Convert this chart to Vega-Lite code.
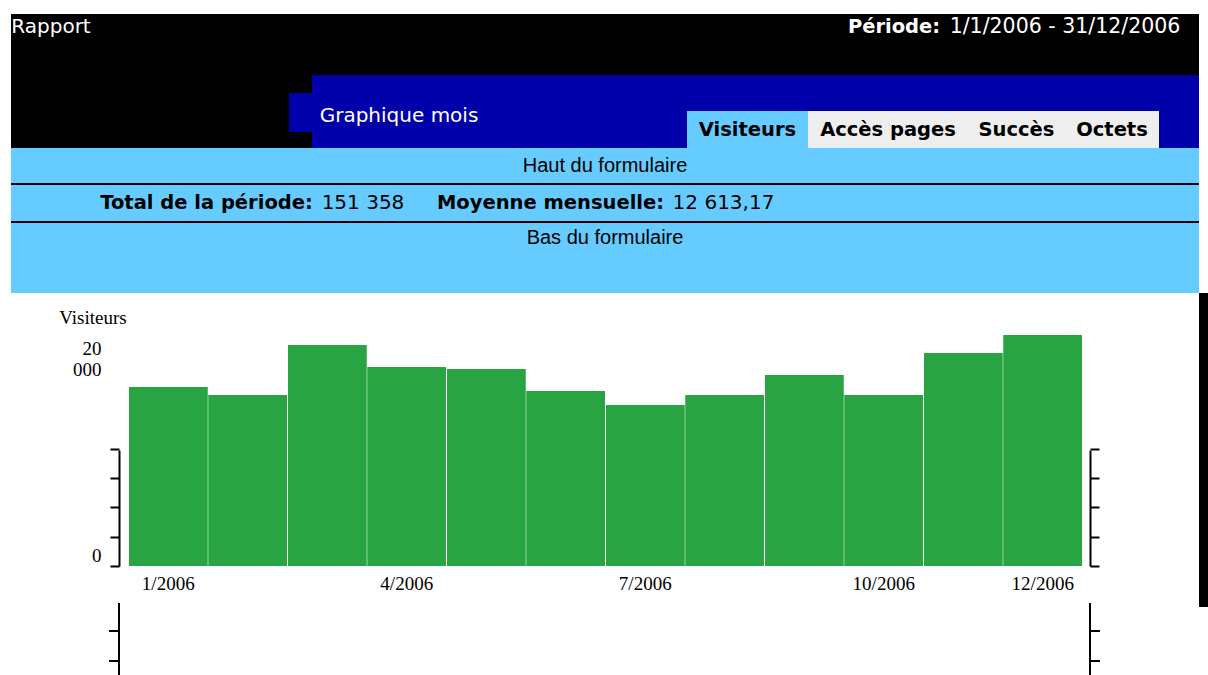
{
  "$schema": "https://vega.github.io/schema/vega-lite/v6.json",
  "background": "white",
  "padding": {"left": 11, "top": 14, "right": 0, "bottom": 0},
  "config": {"view": {"stroke": null}, "concat": {"spacing": 0}},
  "spacing": 0,
  "bounds": "full",
  "vconcat": [
    {
      "spacing": 0, "bounds": "full",
      "vconcat": [
        {
          "spacing": 0, "bounds": "full",
          "hconcat": [
            {"width": 80, "height": 26, "view": {"fill": "#000000", "stroke": null}, "data": {"values": [{"t": "Rapport"}]}, "mark": {"type": "text", "font": "DejaVu Sans", "fontSize": 20, "color": "white"}, "encoding": {"text": {"field": "t", "type": "nominal"}}},
            {"width": 753, "height": 26, "view": {"fill": "#000000", "stroke": null}, "data": {"values": [{}]}, "mark": {"type": "text", "fontSize": 1}, "encoding": {"text": {"value": ""}}},
            {"width": 100, "height": 26, "view": {"fill": "#000000", "stroke": null}, "data": {"values": [{"t": "Période:"}]}, "mark": {"type": "text", "font": "DejaVu Sans", "fontSize": 19.5, "fontWeight": "bold", "color": "white"}, "encoding": {"text": {"field": "t", "type": "nominal"}}},
            {"width": 242, "height": 26, "view": {"fill": "#000000", "stroke": null}, "data": {"values": [{"t": "1/1/2006 - 31/12/2006"}]}, "mark": {"type": "text", "font": "DejaVu Sans", "fontSize": 20.5, "color": "white"}, "encoding": {"text": {"field": "t", "type": "nominal"}}},
            {"width": 13, "height": 26, "view": {"fill": "#000000", "stroke": null}, "data": {"values": [{}]}, "mark": {"type": "text", "fontSize": 1}, "encoding": {"text": {"value": ""}}}
          ]
        },
        {"width": 1188, "height": 35, "view": {"fill": "#000000", "stroke": null}, "data": {"values": [{}]}, "mark": {"type": "text", "fontSize": 1}, "encoding": {"text": {"value": ""}}}
      ]
    },
    {
      "spacing": 0, "bounds": "full",
      "hconcat": [
        {"width": 278, "height": 73, "view": {"fill": "#000000", "stroke": null}, "data": {"values": [{}]}, "mark": {"type": "text", "fontSize": 1}, "encoding": {"text": {"value": ""}}},
        {
          "spacing": 0, "bounds": "full",
          "vconcat": [
            {"width": 23, "height": 18, "view": {"fill": "#000000", "stroke": null}, "data": {"values": [{}]}, "mark": {"type": "text", "fontSize": 1}, "encoding": {"text": {"value": ""}}},
            {"width": 23, "height": 39, "view": {"fill": "#0000AA", "stroke": null}, "data": {"values": [{}]}, "mark": {"type": "text", "fontSize": 1}, "encoding": {"text": {"value": ""}}},
            {"width": 23, "height": 16, "view": {"fill": "#000000", "stroke": null}, "data": {"values": [{}]}, "mark": {"type": "text", "fontSize": 1}, "encoding": {"text": {"value": ""}}}
          ]
        },
        {
          "spacing": 0, "bounds": "full",
          "vconcat": [
            {"width": 375, "height": 20, "view": {"fill": "#0000AA", "stroke": null}, "data": {"values": [{}]}, "mark": {"type": "text", "fontSize": 1}, "encoding": {"text": {"value": ""}}},
            {
              "spacing": 0, "bounds": "full",
              "hconcat": [
                {"width": 174, "height": 42, "view": {"fill": "#0000AA", "stroke": null}, "data": {"values": [{"t": "Graphique mois"}]}, "mark": {"type": "text", "font": "DejaVu Sans", "fontSize": 20, "color": "white"}, "encoding": {"text": {"field": "t", "type": "nominal"}}},
                {"width": 201, "height": 42, "view": {"fill": "#0000AA", "stroke": null}, "data": {"values": [{}]}, "mark": {"type": "text", "fontSize": 1}, "encoding": {"text": {"value": ""}}}
              ]
            },
            {"width": 375, "height": 11, "view": {"fill": "#0000AA", "stroke": null}, "data": {"values": [{}]}, "mark": {"type": "text", "fontSize": 1}, "encoding": {"text": {"value": ""}}}
          ]
        },
        {
          "spacing": 0, "bounds": "full",
          "vconcat": [
            {"width": 472, "height": 36, "view": {"fill": "#0000AA", "stroke": null}, "data": {"values": [{}]}, "mark": {"type": "text", "fontSize": 1}, "encoding": {"text": {"value": ""}}},
            {
              "spacing": 0, "bounds": "full",
              "hconcat": [
                {"width": 121, "height": 37, "view": {"fill": "#66CCFF", "stroke": null}, "data": {"values": [{"t": "Visiteurs"}]}, "mark": {"type": "text", "font": "DejaVu Sans", "fontSize": 19.5, "fontWeight": "bold", "color": "black"}, "encoding": {"text": {"field": "t", "type": "nominal"}}},
                {"width": 160, "height": 37, "view": {"fill": "#EEEEEE", "stroke": null}, "data": {"values": [{"t": "Accès pages"}]}, "mark": {"type": "text", "font": "DejaVu Sans", "fontSize": 19.5, "fontWeight": "bold", "color": "black"}, "encoding": {"text": {"field": "t", "type": "nominal"}}},
                {"width": 97, "height": 37, "view": {"fill": "#EEEEEE", "stroke": null}, "data": {"values": [{"t": "Succès"}]}, "mark": {"type": "text", "font": "DejaVu Sans", "fontSize": 19.5, "fontWeight": "bold", "color": "black"}, "encoding": {"text": {"field": "t", "type": "nominal"}}},
                {"width": 94, "height": 37, "view": {"fill": "#EEEEEE", "stroke": null}, "data": {"values": [{"t": "Octets"}]}, "mark": {"type": "text", "font": "DejaVu Sans", "fontSize": 19.5, "fontWeight": "bold", "color": "black"}, "encoding": {"text": {"field": "t", "type": "nominal"}}}
              ]
            }
          ]
        },
        {"width": 40, "height": 73, "view": {"fill": "#0000AA", "stroke": null}, "data": {"values": [{}]}, "mark": {"type": "text", "fontSize": 1}, "encoding": {"text": {"value": ""}}}
      ]
    },
    {
      "spacing": 0, "bounds": "full",
      "vconcat": [
        {"width": 1188, "height": 35, "view": {"fill": "#66CCFF", "stroke": null}, "data": {"values": [{"t": "Haut du formulaire"}]}, "mark": {"type": "text", "font": "Liberation Sans", "fontSize": 20, "color": "black"}, "encoding": {"text": {"field": "t", "type": "nominal"}}},
        {"width": 1188, "height": 2, "view": {"fill": "#000000", "stroke": null}, "data": {"values": [{}]}, "mark": {"type": "text", "fontSize": 1}, "encoding": {"text": {"value": ""}}},
        {
          "spacing": 0, "bounds": "full",
          "hconcat": [
            {"width": 86, "height": 36, "view": {"fill": "#66CCFF", "stroke": null}, "data": {"values": [{}]}, "mark": {"type": "text", "fontSize": 1}, "encoding": {"text": {"value": ""}}},
            {"width": 219, "height": 36, "view": {"fill": "#66CCFF", "stroke": null}, "data": {"values": [{"t": "Total de la période:"}]}, "mark": {"type": "text", "font": "DejaVu Sans", "fontSize": 19.5, "fontWeight": "bold", "color": "black"}, "encoding": {"text": {"field": "t", "type": "nominal"}}},
            {"width": 94, "height": 36, "view": {"fill": "#66CCFF", "stroke": null}, "data": {"values": [{"t": "151 358"}]}, "mark": {"type": "text", "font": "DejaVu Sans", "fontSize": 20, "color": "black"}, "encoding": {"text": {"field": "t", "type": "nominal"}}},
            {"width": 22, "height": 36, "view": {"fill": "#66CCFF", "stroke": null}, "data": {"values": [{}]}, "mark": {"type": "text", "fontSize": 1}, "encoding": {"text": {"value": ""}}},
            {"width": 237, "height": 36, "view": {"fill": "#66CCFF", "stroke": null}, "data": {"values": [{"t": "Moyenne mensuelle:"}]}, "mark": {"type": "text", "font": "DejaVu Sans", "fontSize": 19.5, "fontWeight": "bold", "color": "black"}, "encoding": {"text": {"field": "t", "type": "nominal"}}},
            {"width": 109, "height": 36, "view": {"fill": "#66CCFF", "stroke": null}, "data": {"values": [{"t": "12 613,17"}]}, "mark": {"type": "text", "font": "DejaVu Sans", "fontSize": 20, "color": "black"}, "encoding": {"text": {"field": "t", "type": "nominal"}}},
            {"width": 421, "height": 36, "view": {"fill": "#66CCFF", "stroke": null}, "data": {"values": [{}]}, "mark": {"type": "text", "fontSize": 1}, "encoding": {"text": {"value": ""}}}
          ]
        },
        {"width": 1188, "height": 2, "view": {"fill": "#000000", "stroke": null}, "data": {"values": [{}]}, "mark": {"type": "text", "fontSize": 1}, "encoding": {"text": {"value": ""}}},
        {"width": 1188, "height": 30, "view": {"fill": "#66CCFF", "stroke": null}, "data": {"values": [{"t": "Bas du formulaire"}]}, "mark": {"type": "text", "font": "Liberation Sans", "fontSize": 20, "color": "black"}, "encoding": {"text": {"field": "t", "type": "nominal"}}},
        {"width": 1188, "height": 40, "view": {"fill": "#66CCFF", "stroke": null}, "data": {"values": [{}]}, "mark": {"type": "text", "fontSize": 1}, "encoding": {"text": {"value": ""}}}
      ]
    },
    {
      "spacing": 0, "bounds": "full",
      "hconcat": [
        {"width": 47, "height": 38, "view": {"stroke": null}, "data": {"values": [{}]}, "mark": {"type": "text", "fontSize": 1}, "encoding": {"text": {"value": ""}}},
        {
          "spacing": 0, "bounds": "full",
          "vconcat": [
            {"width": 70, "height": 12, "view": {"stroke": null}, "data": {"values": [{}]}, "mark": {"type": "text", "fontSize": 1}, "encoding": {"text": {"value": ""}}},
            {"width": 70, "height": 26, "view": {"stroke": null}, "data": {"values": [{"t": "Visiteurs"}]}, "mark": {"type": "text", "font": "Liberation Serif", "fontSize": 19, "color": "black"}, "encoding": {"text": {"field": "t", "type": "nominal"}}}
          ]
        },
        {"width": 1071, "height": 38, "view": {"stroke": null}, "data": {"values": [{}]}, "mark": {"type": "text", "fontSize": 1}, "encoding": {"text": {"value": ""}}},
        {"width": 9, "height": 38, "view": {"fill": "#000000", "stroke": null}, "data": {"values": [{}]}, "mark": {"type": "text", "fontSize": 1}, "encoding": {"text": {"value": ""}}}
      ]
    },
    {
      "spacing": 0, "bounds": "flush",
      "hconcat": [
        {"width": 118, "height": 235, "view": {"stroke": null}, "data": {"values": [{}]}, "mark": {"type": "text", "fontSize": 1}, "encoding": {"text": {"value": ""}}},
        {
          "width": 953, "height": 235,
          "data": {"values": [
            {"mois": "1/2006", "visiteurs": 18280},
            {"mois": "2/2006", "visiteurs": 17460},
            {"mois": "3/2006", "visiteurs": 22570},
            {"mois": "4/2006", "visiteurs": 20320},
            {"mois": "5/2006", "visiteurs": 20120},
            {"mois": "6/2006", "visiteurs": 17870},
            {"mois": "7/2006", "visiteurs": 16440},
            {"mois": "8/2006", "visiteurs": 17460},
            {"mois": "9/2006", "visiteurs": 19510},
            {"mois": "10/2006", "visiteurs": 17460},
            {"mois": "11/2006", "visiteurs": 21750},
            {"mois": "12/2006", "visiteurs": 23590}
          ]},
          "encoding": {
            "x": {"field": "mois", "type": "ordinal", "sort": null, "scale": {"paddingInner": 0.0125, "paddingOuter": 0},
              "axis": {"values": ["1/2006", "4/2006", "7/2006", "10/2006", "12/2006"], "title": null, "labelAngle": 0, "ticks": false, "domain": false, "labelFont": "Liberation Serif", "labelFontSize": 19, "labelColor": "black", "labelPadding": 8, "labelOverlap": false}}
          },
          "layer": [
            {
              "mark": {"type": "bar", "color": "#28a443"},
              "encoding": {
                "y": {"field": "visiteurs", "type": "quantitative", "scale": {"domain": [0, 24000], "nice": false},
                  "axis": {"orient": "left", "values": [0, 3000, 6000, 9000, 12000, 20000], "labelExpr": "datum.value == 0 ? '0' : (datum.value == 20000 ? ['20', '000'] : '')", "title": null, "grid": false, "offset": 10, "domainColor": "black", "domainWidth": 2, "domainDash": [116, 400], "tickColor": "black", "tickWidth": 2, "tickSize": 9, "tickOpacity": {"condition": {"test": "datum.value == 20000", "value": 0}, "value": 1}, "labelFont": "Liberation Serif", "labelFontSize": 19, "labelColor": "black", "labelPadding": 9, "labelOffset": {"condition": {"test": "datum.value == 20000", "value": -22}, "value": -11}, "labelLineHeight": 21, "labelFlush": false, "labelOverlap": false, "labelBound": false}}
              }
            },
            {
              "mark": {"type": "bar", "color": "#28a443"},
              "encoding": {
                "y": {"field": "visiteurs", "type": "quantitative", "scale": {"domain": [0, 24000], "nice": false},
                  "axis": {"orient": "right", "values": [0, 3000, 6000, 9000, 12000], "labels": false, "title": null, "grid": false, "offset": 8, "domainColor": "black", "domainWidth": 2, "domainDash": [116, 400], "tickColor": "black", "tickWidth": 2, "tickSize": 9}}
              }
            }
          ],
          "resolve": {"scale": {"y": "independent"}, "axis": {"y": "independent"}}
        },
        {"width": 117, "height": 235, "view": {"stroke": null}, "data": {"values": [{}]}, "mark": {"type": "text", "fontSize": 1}, "encoding": {"text": {"value": ""}}},
        {"width": 9, "height": 262, "view": {"fill": "#000000", "stroke": null}, "data": {"values": [{}]}, "mark": {"type": "text", "fontSize": 1}, "encoding": {"text": {"value": ""}}}
      ]
    },
    {
      "spacing": 0, "bounds": "full",
      "hconcat": [
        {"width": 98, "height": 82, "view": {"stroke": null}, "data": {"values": [{}]}, "mark": {"type": "text", "fontSize": 1}, "encoding": {"text": {"value": ""}}},
        {
          "spacing": 0, "bounds": "full",
          "vconcat": [
            {"width": 9, "height": 37, "view": {"stroke": null}, "data": {"values": [{}]}, "mark": {"type": "text", "fontSize": 1}, "encoding": {"text": {"value": ""}}},
            {"width": 9, "height": 2, "view": {"fill": "#000000", "stroke": null}, "data": {"values": [{}]}, "mark": {"type": "text", "fontSize": 1}, "encoding": {"text": {"value": ""}}},
            {"width": 9, "height": 28, "view": {"stroke": null}, "data": {"values": [{}]}, "mark": {"type": "text", "fontSize": 1}, "encoding": {"text": {"value": ""}}},
            {"width": 9, "height": 2, "view": {"fill": "#000000", "stroke": null}, "data": {"values": [{}]}, "mark": {"type": "text", "fontSize": 1}, "encoding": {"text": {"value": ""}}},
            {"width": 9, "height": 13, "view": {"stroke": null}, "data": {"values": [{}]}, "mark": {"type": "text", "fontSize": 1}, "encoding": {"text": {"value": ""}}}
          ]
        },
        {
          "spacing": 0, "bounds": "full",
          "vconcat": [
            {"width": 2, "height": 10, "view": {"stroke": null}, "data": {"values": [{}]}, "mark": {"type": "text", "fontSize": 1}, "encoding": {"text": {"value": ""}}},
            {"width": 2, "height": 72, "view": {"fill": "#000000", "stroke": null}, "data": {"values": [{}]}, "mark": {"type": "text", "fontSize": 1}, "encoding": {"text": {"value": ""}}}
          ]
        },
        {"width": 969, "height": 82, "view": {"stroke": null}, "data": {"values": [{}]}, "mark": {"type": "text", "fontSize": 1}, "encoding": {"text": {"value": ""}}},
        {
          "spacing": 0, "bounds": "full",
          "vconcat": [
            {"width": 2, "height": 10, "view": {"stroke": null}, "data": {"values": [{}]}, "mark": {"type": "text", "fontSize": 1}, "encoding": {"text": {"value": ""}}},
            {"width": 2, "height": 72, "view": {"fill": "#000000", "stroke": null}, "data": {"values": [{}]}, "mark": {"type": "text", "fontSize": 1}, "encoding": {"text": {"value": ""}}}
          ]
        },
        {
          "spacing": 0, "bounds": "full",
          "vconcat": [
            {"width": 9, "height": 37, "view": {"stroke": null}, "data": {"values": [{}]}, "mark": {"type": "text", "fontSize": 1}, "encoding": {"text": {"value": ""}}},
            {"width": 9, "height": 2, "view": {"fill": "#000000", "stroke": null}, "data": {"values": [{}]}, "mark": {"type": "text", "fontSize": 1}, "encoding": {"text": {"value": ""}}},
            {"width": 9, "height": 28, "view": {"stroke": null}, "data": {"values": [{}]}, "mark": {"type": "text", "fontSize": 1}, "encoding": {"text": {"value": ""}}},
            {"width": 9, "height": 2, "view": {"fill": "#000000", "stroke": null}, "data": {"values": [{}]}, "mark": {"type": "text", "fontSize": 1}, "encoding": {"text": {"value": ""}}},
            {"width": 9, "height": 13, "view": {"stroke": null}, "data": {"values": [{}]}, "mark": {"type": "text", "fontSize": 1}, "encoding": {"text": {"value": ""}}}
          ]
        },
        {"width": 99, "height": 82, "view": {"stroke": null}, "data": {"values": [{}]}, "mark": {"type": "text", "fontSize": 1}, "encoding": {"text": {"value": ""}}},
        {
          "spacing": 0, "bounds": "full",
          "vconcat": [
            {"width": 9, "height": 14, "view": {"fill": "#000000", "stroke": null}, "data": {"values": [{}]}, "mark": {"type": "text", "fontSize": 1}, "encoding": {"text": {"value": ""}}},
            {"width": 9, "height": 68, "view": {"stroke": null}, "data": {"values": [{}]}, "mark": {"type": "text", "fontSize": 1}, "encoding": {"text": {"value": ""}}}
          ]
        }
      ]
    }
  ]
}
